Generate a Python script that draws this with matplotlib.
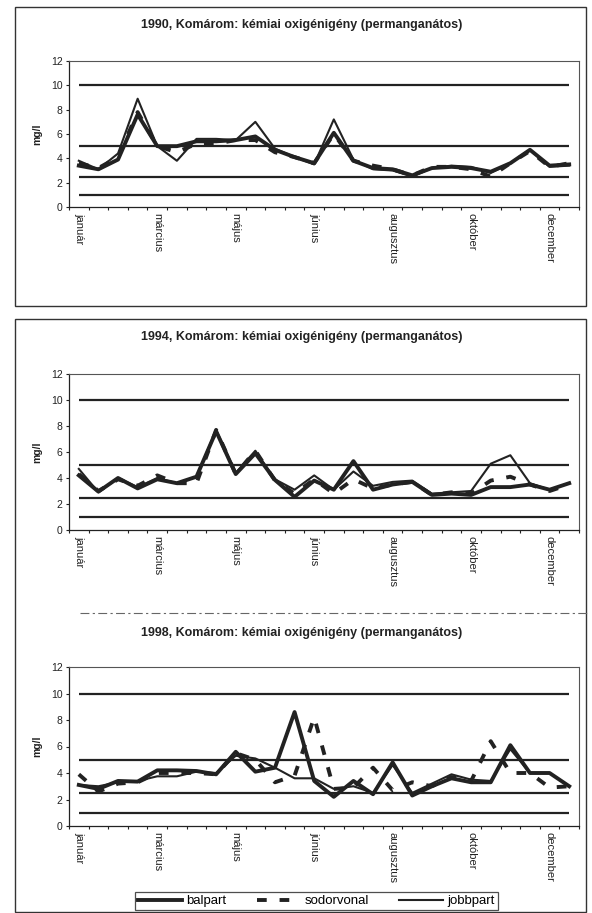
import numpy as np
import matplotlib
matplotlib.use("Agg")
import matplotlib.pyplot as plt
from matplotlib.patches import Rectangle
from matplotlib.lines import Line2D

plt.rcParams['font.family'] = ['Liberation Sans', 'DejaVu Sans']

# ---------------- data ----------------
years = [1990, 1994, 1998]
month_labels = ["január", "március", "május", "június", "augusztus", "október", "december"]
n_samples = 26
ref_levels = [10, 5, 2.5, 1]
series_names = ["balpart", "sodorvonal", "jobbpart"]

bal_1990 = [3.4, 3.1, 3.9, 7.6, 5.0, 5.0, 5.4, 5.4, 5.5, 5.8, 4.7, 4.1, 3.6, 6.1, 3.8, 3.2, 3.1, 2.6, 3.2, 3.3, 3.2, 2.9, 3.6, 4.7, 3.4, 3.5]
sod_1990 = [3.6, 3.2, 4.1, 7.8, 5.0, 4.5, 5.2, 5.2, 5.5, 5.5, 4.5, 4.1, 3.6, 6.0, 3.8, 3.4, 3.1, 2.6, 3.3, 3.3, 3.1, 2.5, 3.6, 4.6, 3.3, 3.6]
jobb_1990 = [3.8, 3.1, 4.4, 8.9, 5.0, 3.8, 5.6, 5.6, 5.5, 7.0, 4.8, 4.1, 3.5, 7.2, 3.9, 3.1, 3.0, 2.5, 3.2, 3.4, 3.3, 2.8, 3.6, 4.7, 3.3, 3.4]

bal_1994 = [4.2, 2.95, 4.0, 3.2, 3.9, 3.6, 4.1, 7.6, 4.3, 5.9, 3.85, 2.55, 3.8, 3.1, 5.3, 3.1, 3.5, 3.7, 2.7, 2.8, 2.7, 3.3, 3.3, 3.5, 3.1, 3.6]
sod_1994 = [4.3, 3.0, 3.9, 3.4, 4.2, 3.6, 3.6, 7.7, 4.3, 6.1, 3.8, 2.8, 3.9, 2.8, 3.9, 3.2, 3.5, 3.7, 2.7, 2.9, 2.8, 3.8, 4.1, 3.5, 3.0, 3.5]
jobb_1994 = [4.7, 2.9, 4.0, 3.3, 4.0, 3.6, 4.1, 7.7, 4.4, 6.1, 3.9, 3.1, 4.2, 3.1, 4.5, 3.4, 3.7, 3.8, 2.8, 2.9, 3.0, 5.1, 5.75, 3.6, 3.1, 3.6]

bal_1998 = [3.1, 2.8, 3.4, 3.35, 4.2, 4.2, 4.15, 3.9, 5.6, 4.1, 4.4, 8.6, 3.4, 2.2, 3.4, 2.4, 4.8, 2.3, 3.0, 3.6, 3.3, 3.3, 6.1, 4.0, 4.0, 3.0]
sod_1998 = [3.9, 2.6, 3.2, 3.3, 4.0, 4.0, 4.0, 3.9, 5.5, 5.0, 3.3, 3.8, 8.2, 2.8, 2.9, 4.4, 2.7, 3.3, 3.0, 3.7, 3.4, 6.4, 4.0, 4.0, 2.9, 3.0]
jobb_1998 = [3.1, 3.0, 3.3, 3.4, 3.75, 3.75, 4.1, 4.0, 5.3, 5.1, 4.4, 3.6, 3.6, 2.8, 3.0, 2.5, 4.6, 2.5, 3.2, 3.9, 3.5, 3.4, 5.8, 4.0, 4.0, 3.0]

panel_data = {
    1990: (bal_1990, sod_1990, jobb_1990),
    1994: (bal_1994, sod_1994, jobb_1994),
    1998: (bal_1998, sod_1998, jobb_1998),
}

# ---------------- layout (pixels) ----------------
W, H = 592, 913
fig = plt.figure(figsize=(W / 100, H / 100), dpi=100)
fig.patch.set_facecolor('white')

def rect(l, t, r, b):
    return [l / W, 1 - b / H, (r - l) / W, (b - t) / H]

axes_px = {1990: (69, 61, 579, 207), 1994: (69, 374, 579, 530), 1998: (69, 667, 579, 826)}
title_y = {1990: 25, 1994: 337, 1998: 633}

ink = '#222222'
x = np.arange(n_samples)
label_pos = np.arange(0, n_samples, 4)[:len(month_labels)]

handles = None
for yr in years:
    bal, sod, jobb = panel_data[yr]
    ax = fig.add_axes(rect(*axes_px[yr]))
    ax.set_facecolor('white')
    for lev in ref_levels:
        ax.plot([x[0], x[-1]], [lev, lev], color=ink, lw=1.6, solid_capstyle='butt', zorder=2)
    h1, = ax.plot(x, bal, color=ink, lw=2.8, zorder=3, label=series_names[0])
    h2, = ax.plot(x, sod, color=ink, lw=2.8, dashes=(2.5, 3.3), zorder=4, label=series_names[1])
    h3, = ax.plot(x, jobb, color=ink, lw=1.5, zorder=5, label=series_names[2])
    handles = [h1, h2, h3]

    ax.set_xlim(-0.5, n_samples - 0.5)
    ax.set_ylim(0, 12)
    ax.set_yticks(range(0, 13, 2))
    ax.tick_params(axis='y', labelsize=7.5, length=2.2, width=0.8, pad=2.5, colors=ink)
    ax.set_xticks(np.arange(-0.5, n_samples, 1))
    ax.set_xticklabels([])
    ax.tick_params(axis='x', which='major', length=2.2, width=0.8, colors=ink)
    ax.set_xticks(label_pos, minor=True)
    ax.set_xticklabels(month_labels, minor=True, rotation=-90, fontsize=8)
    ax.tick_params(axis='x', which='minor', length=0, pad=4, colors=ink)
    for s in ['left', 'bottom']:
        ax.spines[s].set_linewidth(0.9)
        ax.spines[s].set_color(ink)
    for s in ['top', 'right']:
        ax.spines[s].set_linewidth(0.8)
        ax.spines[s].set_color('#555555')
    ax.set_ylabel('mg/l', fontsize=7.5, fontweight='bold', color=ink)
    ax.yaxis.set_label_coords((42 - 69) / 510, 0.5)

    fig.text(302 / W, 1 - title_y[yr] / H,
             f"{yr}, Komárom: kémiai oxigénigény (permanganátos)",
             ha='center', va='center', fontsize=9, fontweight='bold', color=ink)

# outer boxes
fig.add_artist(Rectangle((15 / W, 1 - 306 / H), (586 - 15) / W, (306 - 7) / H,
                         transform=fig.transFigure, fill=False, lw=1.0, ec='#333333'))
fig.add_artist(Rectangle((15 / W, 1 - 912 / H), (586 - 15) / W, (912 - 319) / H,
                         transform=fig.transFigure, fill=False, lw=1.0, ec='#333333'))
# separator between 1994 and 1998 panels
fig.add_artist(Line2D([80 / W, 590 / W], [1 - 613 / H, 1 - 613 / H], transform=fig.transFigure,
                      color='#666666', lw=0.8, dashes=(8, 3, 2, 3)))

leg = fig.legend(handles, series_names, loc='center', bbox_to_anchor=(316.5 / W, 1 - 901 / H),
                 ncol=3, frameon=True, fancybox=False, edgecolor=ink, fontsize=9.5,
                 handlelength=3.3, handletextpad=0.35, columnspacing=2.3, borderpad=0.2,
                 borderaxespad=0)
leg.get_frame().set_linewidth(0.9)

fig.savefig('out.png', dpi=100, facecolor='white')
